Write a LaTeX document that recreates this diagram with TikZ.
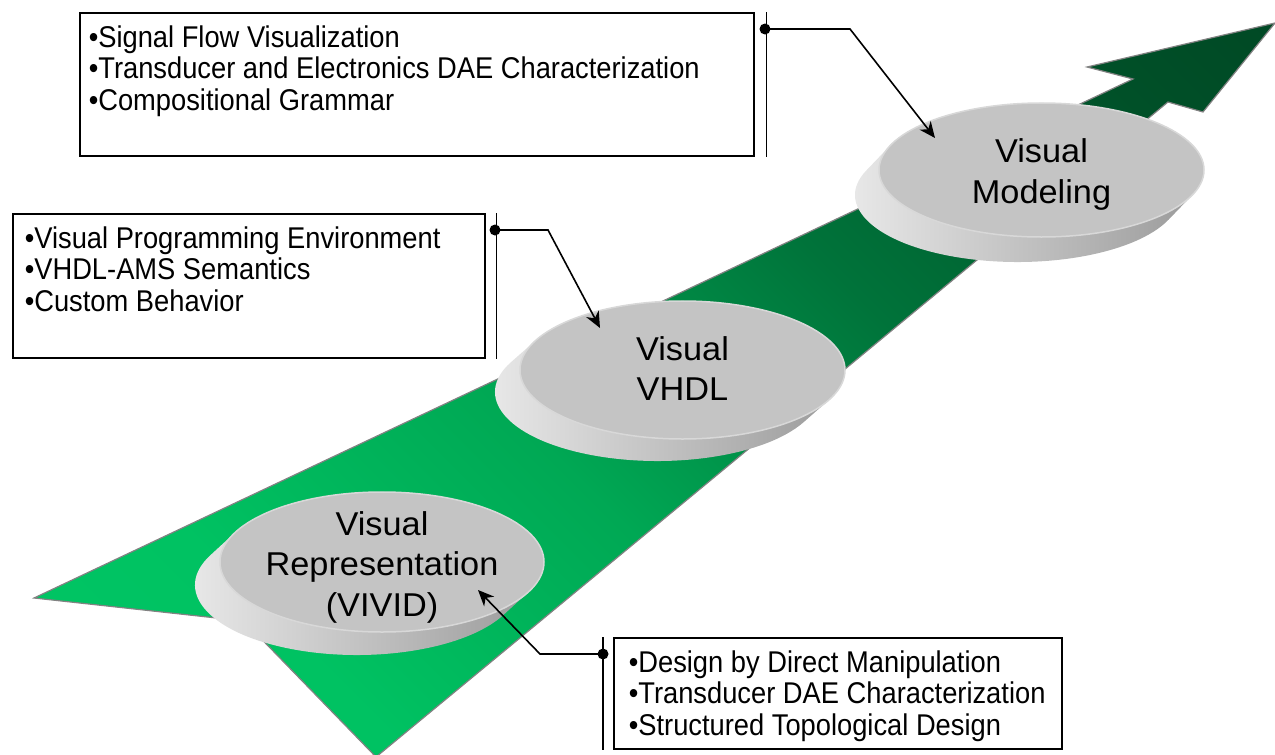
\documentclass[tikz,border=0pt]{standalone}
\usepackage{fontspec}
\setmainfont{Liberation Sans}
\newfontfamily\boxfont[FakeStretch=0.91]{Liberation Sans}
\newfontfamily\discfont[FakeStretch=1.04]{Liberation Sans}
\usetikzlibrary{arrows.meta,calc}

\definecolor{arrowedge}{RGB}{130,130,130}
\definecolor{roadA}{RGB}{0,198,100}
\definecolor{roadB}{RGB}{0,194,98}
\definecolor{roadC}{RGB}{0,168,84}
\definecolor{roadD}{RGB}{0,115,58}
\definecolor{roadE}{RGB}{0,80,40}
\definecolor{roadF}{RGB}{0,72,36}
\definecolor{facegray}{RGB}{196,196,196}
\definecolor{facerim}{RGB}{216,216,216}
\definecolor{sidelight}{RGB}{236,236,236}
\definecolor{sidedark}{RGB}{148,148,148}

% green ramp along the road, light at the tail, dark at the head
% (the middle half, 25bp to 75bp, spans the shaded square)
\pgfdeclarehorizontalshading{roadramp}{100bp}{%
  color(0bp)=(roadA); color(25bp)=(roadA); color(35bp)=(roadB);
  color(46bp)=(roadC); color(57.5bp)=(roadD); color(69bp)=(roadE);
  color(75bp)=(roadF); color(100bp)=(roadF)}

\tikzset{
  roadedge/.style={draw=arrowedge, line width=1.2pt},
  discside/.style={left color=sidelight, right color=sidedark},
  discface/.style={fill=facegray, draw=facerim, line width=1.5pt},
  disclabel/.style={font=\discfont\fontsize{33}{40.5}\selectfont, align=center, inner sep=0pt},
  infobox/.style={draw=black, line width=1.6pt, inner ysep=0pt, anchor=north west},
  sideline/.style={line width=1.6pt},
  joint/.style={circle, fill=black, inner sep=0pt, minimum size=11pt},
  leader/.style={line width=1.6pt, -{Stealth[length=16pt,width=14pt,inset=5pt]}},
}

% side wall of a tilted disc: hull of the face and its shifted copy
% #1,#2 centre, #3,#4 radii, #5,#6 shift of the lower rim
\newcommand\discbody[6]{%
  \pgfmathsetmacro\tza{atan(-(#4*#5)/(#3*#6))}%
  \pgfmathsetmacro\tzb{\tza+180}%
  \pgfmathsetmacro\tzc{\tza+360}%
  \shade[discside] ($(#1,#2)+(#5,#6)+(\tza:#3 and #4)$)
    arc[start angle=\tza, end angle=\tzb, x radius=#3, y radius=#4]
    -- ($(#1,#2)+(\tzb:#3 and #4)$)
    arc[start angle=\tzb, end angle=\tzc, x radius=#3, y radius=#4] -- cycle;
}

\newcommand\itemlines[1]{\boxfont\fontsize{30}{31.5}\selectfont\raggedright\rule{0pt}{34.5pt}#1}
\newcommand\roadoutline{(34,598) -- (1133,79) -- (1087,67) -- (1275,23)
  -- (1203,112) -- (1168,102) -- (376,757) -- (244,621) -- cycle}

\begin{document}
\begin{tikzpicture}[x=1pt, y=-1pt]
\useasboundingbox (0,0) rectangle (1275,755);

% the road arrow: a square shaded at 45 degrees, clipped to the outline
\begin{scope}
  \clip \roadoutline;
  \shade[shading=roadramp, shading angle=45] (-70,-330) rectangle (1370,1110);
\end{scope}
\draw[roadedge] \roadoutline;

% Visual Representation disc
\discbody{382}{562}{162}{70}{-25}{23}
\draw[discface] (382,562) ellipse[x radius=162, y radius=70];
\node[disclabel] (vivid) at (382,567) {Visual\\Representation\\(VIVID)};

% Visual VHDL disc
\discbody{682.5}{370}{162.5}{69}{-25}{22}
\draw[discface] (682.5,370) ellipse[x radius=162.5, y radius=69];
\node[disclabel] (vhdl) at (682.5,368.5) {Visual\\VHDL};

% Visual Modeling disc
\discbody{1041.5}{170}{162.5}{67}{-24}{25}
\draw[discface] (1041.5,170) ellipse[x radius=162.5, y radius=67];
\node[disclabel] (modeling) at (1041.5,174.5) {Visual\\Modeling};

% feature boxes
\node[infobox, inner xsep=9pt] (box1) at (79,12)
  {\parbox[c][143pt][t]{656pt}{\itemlines{%
   •Signal Flow Visualization\\
   •Transducer and Electronics DAE Characterization\\
   •Compositional Grammar}}};
\node[infobox, inner xsep=12pt] (box2) at (12,213)
  {\parbox[c][144pt][t]{448pt}{\itemlines{%
   •Visual Programming Environment\\
   •VHDL-AMS Semantics\\
   •Custom Behavior}}};
\node[infobox, inner xsep=15pt] (box3) at (613,637)
  {\parbox[c][111pt][t]{418pt}{\itemlines{%
   •Design by Direct Manipulation\\
   •Transducer DAE Characterization\\
   •Structured Topological Design}}};

% rails beside the boxes
\coordinate (r1a) at ($(box1.north east)+(12,0)$);
\coordinate (r1b) at ($(box1.south east)+(12,0)$);
\coordinate (r2a) at ($(box2.north east)+(11,0)$);
\coordinate (r2b) at ($(box2.south east)+(11,0)$);
\coordinate (r3a) at ($(box3.north west)+(-10,0)$);
\coordinate (r3b) at ($(box3.south west)+(-10,0)$);
\draw[sideline] (r1a) -- (r1b);
\draw[sideline] (r2a) -- (r2b);
\draw[sideline] (r3a) -- (r3b);

\node[joint] (j1) at (765,29) {};
\node[joint] (j2) at (495,230) {};
\node[joint] (j3) at (603,654) {};

% bends and targets of the leaders
\coordinate (k1) at (850,29);
\coordinate (k2) at (548,230);
\coordinate (k3) at (540,654);
\coordinate (t1) at (935,138);
\coordinate (t2) at (600,328);
\coordinate (t3) at (478,590);

\draw[leader] (j1.center) -- (k1) -- (t1);
\draw[leader] (j2.center) -- (k2) -- (t2);
\draw[leader] (j3.center) -- (k3) -- (t3);
\end{tikzpicture}
\end{document}
